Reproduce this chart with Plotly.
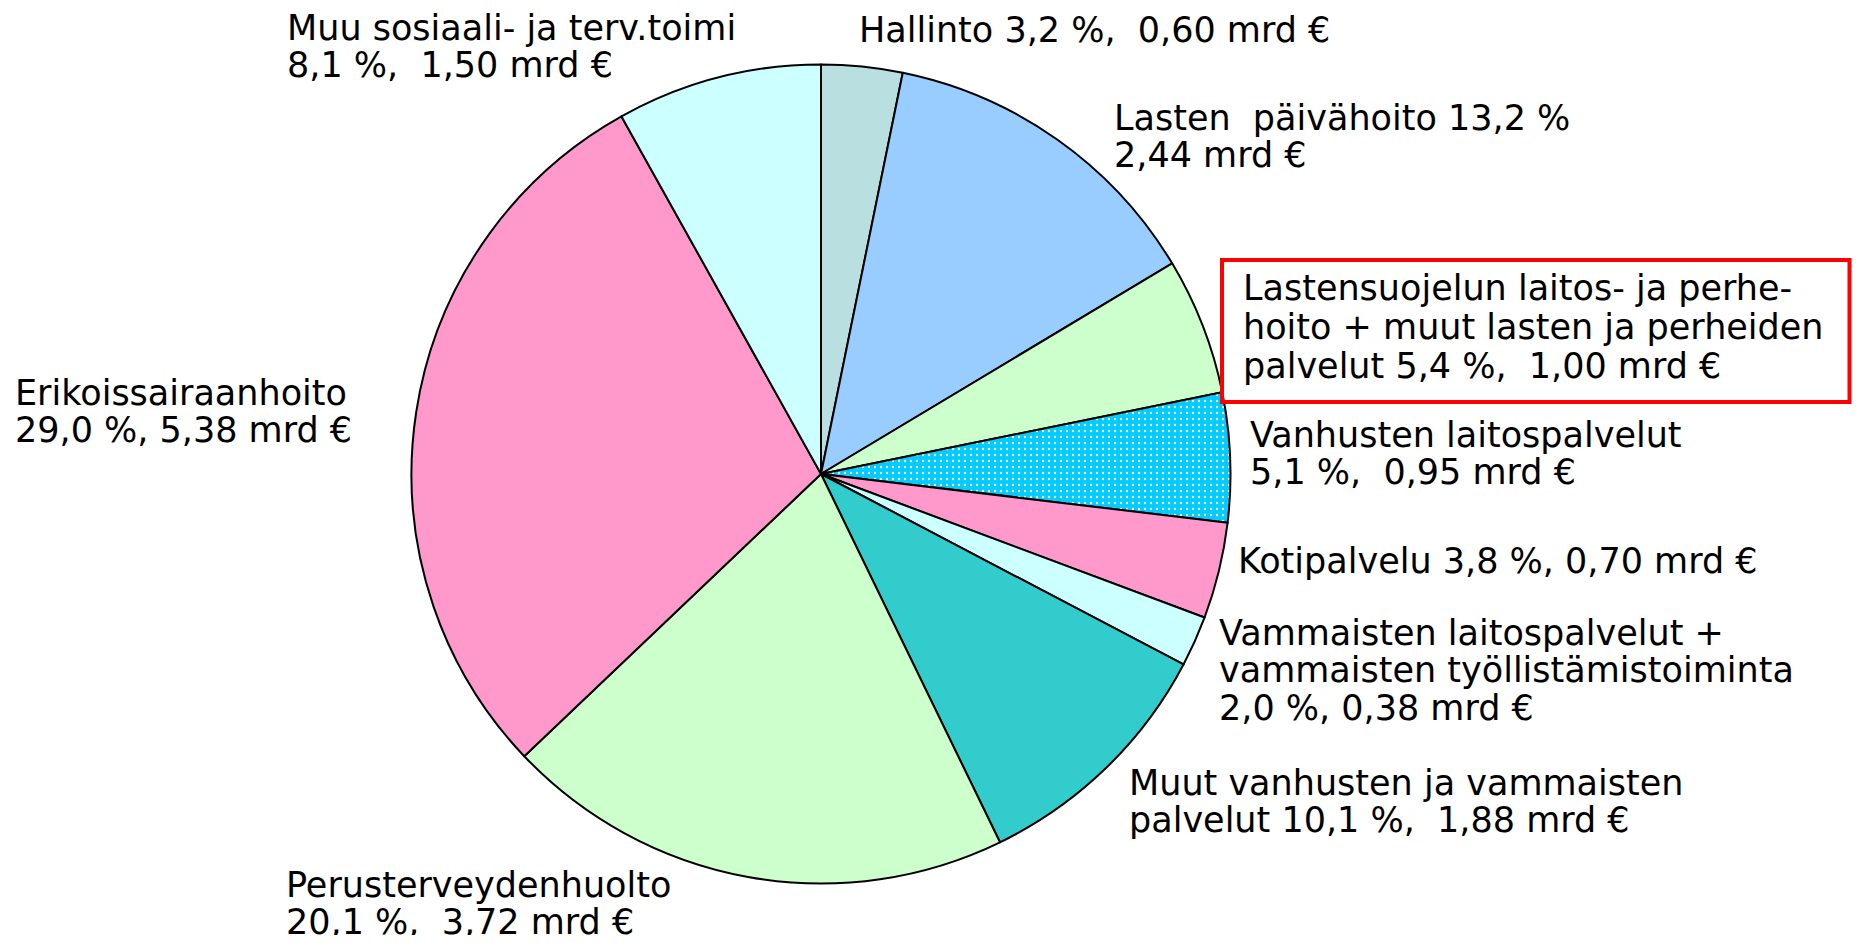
import plotly.graph_objects as go

OFF = 8  # page body margin offset
W, H = 1860 - 2 * OFF, 943 - 2 * OFF

# ---- data ----
categories = [
    "Hallinto", "Lasten päivähoito",
    "Lastensuojelun laitos- ja perhehoito + muut lasten ja perheiden palvelut",
    "Vanhusten laitospalvelut", "Kotipalvelu",
    "Vammaisten laitospalvelut + vammaisten työllistämistoiminta",
    "Muut vanhusten ja vammaisten palvelut", "Perusterveydenhuolto",
    "Erikoissairaanhoito", "Muu sosiaali- ja terv.toimi",
]
shares = [3.2, 13.2, 5.4, 5.1, 3.8, 2.0, 10.1, 20.1, 29.0, 8.1]
billions = [0.60, 2.44, 1.00, 0.95, 0.70, 0.38, 1.88, 3.72, 5.38, 1.50]
colors = ["#B9DFE1", "#99CCFF", "#CCFFCC", "#00CCFF", "#FF99CC",
          "#CCFFFF", "#33CCCC", "#CCFFCC", "#FF99CC", "#CCFFFF"]
shapes_pat = ["", "", "", ".", "", "", "", "", "", ""]

NB = "\u00a0"
label_lines = [
    [f"Hallinto 3,2 %,{NB} 0,60 mrd €"],
    [f"Lasten{NB} päivähoito 13,2 %", "2,44 mrd €"],
    ["Lastensuojelun laitos- ja perhe-", "hoito + muut lasten ja perheiden",
     f"palvelut 5,4 %,{NB} 1,00 mrd €"],
    ["Vanhusten laitospalvelut", f"5,1 %,{NB} 0,95 mrd €"],
    ["Kotipalvelu 3,8 %, 0,70 mrd €"],
    ["Vammaisten laitospalvelut +", "vammaisten työllistämistoiminta",
     "2,0 %, 0,38 mrd €"],
    ["Muut vanhusten ja vammaisten", f"palvelut 10,1 %,{NB} 1,88 mrd €"],
    ["Perusterveydenhuolto", f"20,1 %,{NB} 3,72 mrd €"],
    ["Erikoissairaanhoito", "29,0 %, 5,38 mrd €"],
    ["Muu sosiaali- ja terv.toimi", f"8,1 %,{NB} 1,50 mrd €"],
]

# ---- layout positions (pixels in reference) ----
cx, cy, r = 821 - OFF, 474 - OFF, 409.5
label_pos = [  # left x, first baseline y, line step
    (858, 42, 37),
    (1113, 130, 37),
    (1242, 300, 39),
    (1249, 447, 37),
    (1237, 573, 37),
    (1218, 645, 37.5),
    (1128, 795, 37),
    (285, 897, 37),
    (14, 405, 37),
    (286, 40, 37),
]
FS = 35
FONT = dict(family="DejaVu Sans, Verdana, sans-serif", size=FS, color="black")

fig = go.Figure(go.Pie(
    labels=categories, values=shares, customdata=billions,
    sort=False, direction="clockwise", rotation=0,
    textinfo="none", hoverinfo="label+percent",
    marker=dict(colors=colors, line=dict(color="black", width=2),
                pattern=dict(shape=shapes_pat, fgcolor="white",
                             bgcolor=colors, fillmode="replace",
                             size=6, solidity=0.12)),
    domain=dict(x=[(cx - r) / W, (cx + r) / W],
                y=[1 - (cy + r) / H, 1 - (cy - r) / H]),
    showlegend=False,
))

ann = []
for lines, (x0, yb, step) in zip(label_lines, label_pos):
    for i, t in enumerate(lines):
        ymid = yb + i * step - 0.346 * FS - OFF
        ann.append(dict(text=t, x=(x0 - OFF) / W, y=1 - ymid / H, xref="paper",
                        yref="paper", xanchor="left", yanchor="middle",
                        showarrow=False, font=FONT, align="left",
                        borderpad=0))

fig.update_layout(
    width=W, height=H, margin=dict(l=0, r=0, t=0, b=0),
    paper_bgcolor="white", plot_bgcolor="white",
    annotations=ann,
    shapes=[dict(type="rect", xref="paper", yref="paper",
                 x0=(1222 - OFF) / W, x1=(W - 2.5) / W,
                 y0=1 - (402 - OFF) / H, y1=1 - (260 - OFF) / H,
                 line=dict(color="#FF0000", width=4), fillcolor="rgba(0,0,0,0)")],
)
fig.write_html("out.html")
